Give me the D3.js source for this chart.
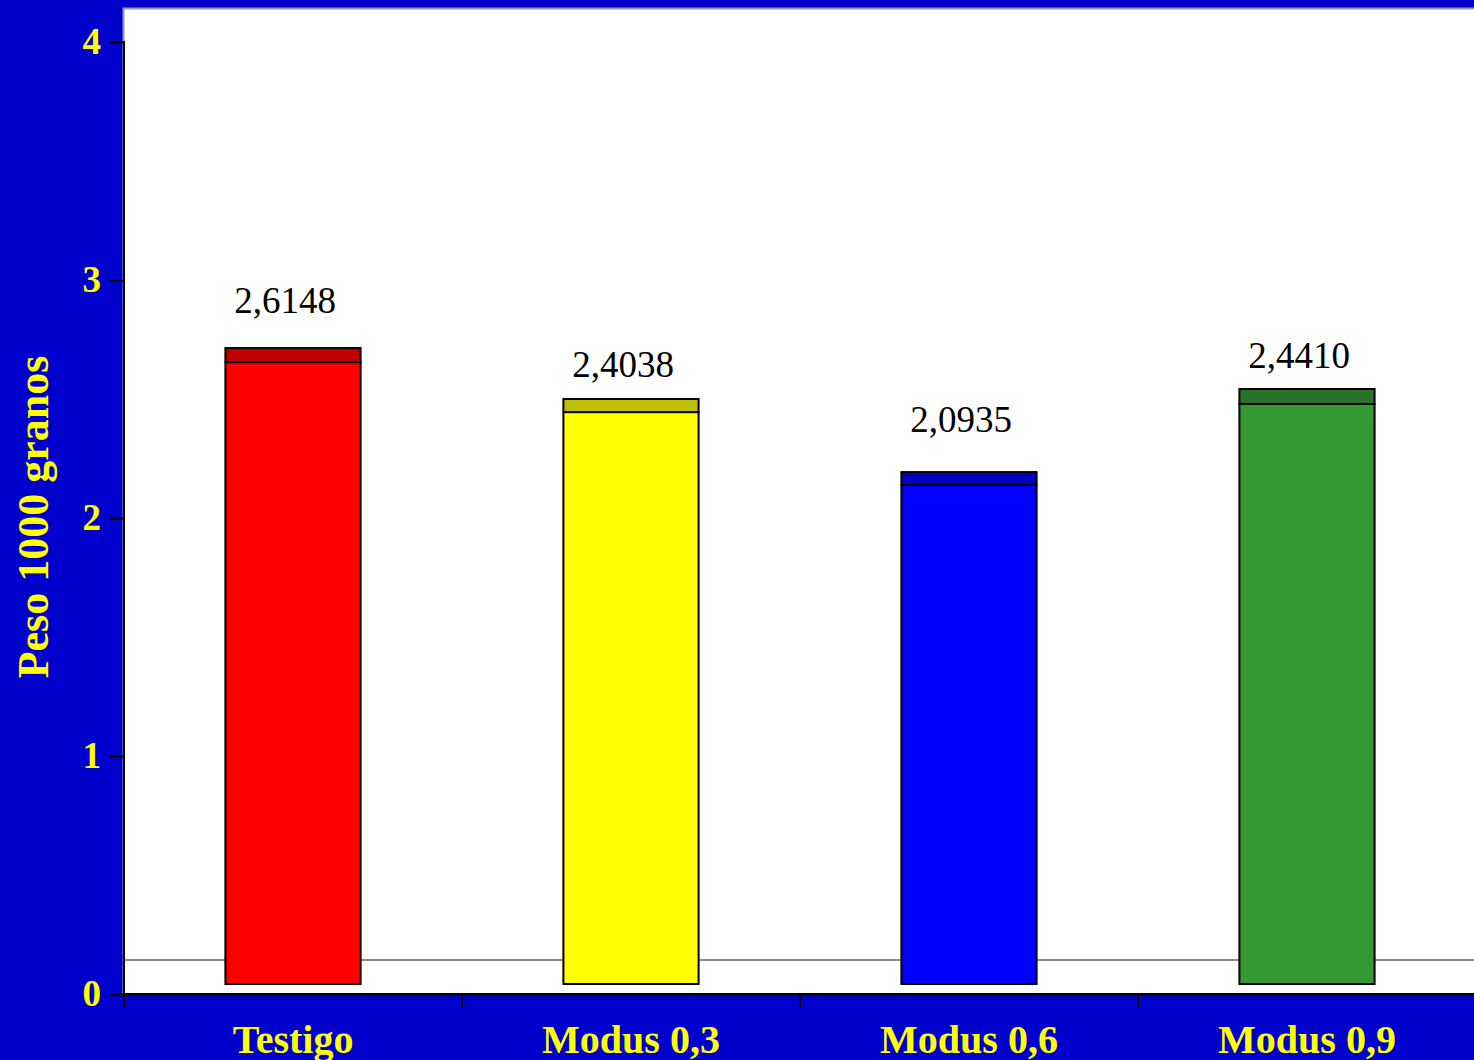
<!DOCTYPE html>
<html>
<head>
<meta charset="utf-8">
<script src="https://cdn.jsdelivr.net/npm/d3@7"></script>
<style>
  html, body { margin: 0; padding: 0; background: #0000CC; }
  svg { display: block; }
</style>
</head>
<body>
<svg id="chart" width="1474" height="1060"></svg>
<script>
// ---- data ----
const categories = ["Testigo", "Modus 0,3", "Modus 0,6", "Modus 0,9"];
const barBase    = [0.042, 0.042, 0.042, 0.042];
const barMain    = [2.655, 2.445, 2.139, 2.479];   // top of main segment
const barTop     = [2.714, 2.500, 2.193, 2.542];   // top of darker cap
const valueLabels = ["2,6148", "2,4038", "2,0935", "2,4410"];
const labelLevel  = [2.861, 2.592, 2.361, 2.630];
const yTicks = [0, 1, 2, 3, 4];
const refLine = 0.143;
const mainColors = ["#FF0000", "#FFFF00", "#0000FF", "#339933"];
const capColors  = ["#C00000", "#C0C000", "#0000C0", "#2A732A"];

// ---- layout ----
const svg = d3.select("#chart");
const left = 124, right = 1476, top0 = 42, bottom = 994;

const x = d3.scaleBand().domain(categories).range([left, right])
  .paddingInner(0.6).paddingOuter(0.3);
const y = d3.scaleLinear().domain([0, 4]).range([bottom, top0]);

// plot area
svg.append("rect")
  .attr("x", left - 0.5).attr("y", 8.5)
  .attr("width", 1474 - left + 10).attr("height", bottom - 8.5)
  .attr("fill", "#fff").attr("stroke", "#9a9a9a").attr("stroke-width", 2);

// reference line
svg.append("line")
  .attr("x1", left).attr("x2", 1474)
  .attr("y1", y(refLine)).attr("y2", y(refLine))
  .attr("stroke", "#8c8c8c").attr("stroke-width", 2);

const g = svg.append("g");
categories.forEach((c, i) => {
  g.append("rect")
    .attr("x", x(c)).attr("width", x.bandwidth())
    .attr("y", y(barMain[i])).attr("height", y(barBase[i]) - y(barMain[i]))
    .attr("fill", mainColors[i]).attr("stroke", "#000").attr("stroke-width", 2);
  g.append("rect")
    .attr("x", x(c)).attr("width", x.bandwidth())
    .attr("y", y(barTop[i])).attr("height", y(barMain[i]) - y(barTop[i]))
    .attr("fill", capColors[i]).attr("stroke", "#000").attr("stroke-width", 2);
  g.append("text")
    .attr("x", x(c) + x.bandwidth() / 2 - 8)
    .attr("y", y(labelLevel[i]))
    .attr("text-anchor", "middle")
    .attr("font-family", "'Liberation Serif', 'Times New Roman', serif")
    .attr("font-size", 37)
    .attr("fill", "#000")
    .text(valueLabels[i]);
});

// y axis
const yAxis = d3.axisLeft(y).tickValues(yTicks).tickSize(14).tickPadding(9)
  .tickFormat(d3.format("d"));
const ya = svg.append("g").attr("transform", `translate(${left},0)`).call(yAxis);
ya.select(".domain").attr("stroke", "#000").attr("stroke-width", 2)
  .attr("d", `M-14,${top0}H0V${bottom}`);
ya.selectAll(".tick line").attr("stroke", "#000").attr("stroke-width", 2);
ya.selectAll(".tick text")
  .attr("fill", "#FFFF00")
  .attr("font-family", "'Liberation Serif', 'Times New Roman', serif")
  .attr("font-weight", "bold").attr("font-size", 37);

// x axis
const xa = svg.append("g").attr("transform", `translate(0,${bottom})`)
  .call(d3.axisBottom(x).tickSize(0).tickPadding(59));
xa.select(".domain").attr("stroke", "#000").attr("stroke-width", 2)
  .attr("d", `M${left},0H1474`);
xa.selectAll(".tick text")
  .attr("fill", "#FFFF00")
  .attr("font-family", "'Liberation Serif', 'Times New Roman', serif")
  .attr("font-weight", "bold").attr("font-size", 40)
  .attr("dy", "0");
// boundary ticks between bands
const bounds = categories.map((c, i) => left + i * x.step());
xa.selectAll(".bound").data(bounds).join("line")
  .attr("x1", d => d).attr("x2", d => d)
  .attr("y1", 0).attr("y2", 13)
  .attr("stroke", "#000").attr("stroke-width", 2);

// y axis title
svg.append("text")
  .attr("transform", `translate(48,517) rotate(-90)`)
  .attr("text-anchor", "middle")
  .attr("fill", "#FFFF00")
  .attr("font-family", "'Liberation Serif', 'Times New Roman', serif")
  .attr("font-weight", "bold").attr("font-size", 44)
  .text("Peso 1000 granos");
</script>
</body>
</html>
